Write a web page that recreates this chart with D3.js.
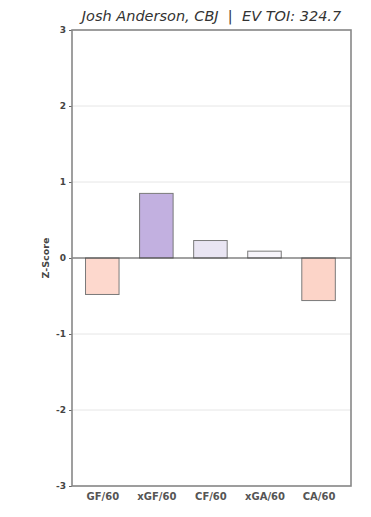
<!DOCTYPE html>
<html>
<head>
<meta charset="utf-8">
<script src="https://cdn.jsdelivr.net/npm/d3@7"></script>
<style>
  body { margin: 0; background: #ffffff; }
  text { font-family: "DejaVu Sans", sans-serif; }
</style>
</head>
<body>
<svg id="chart"></svg>
<script>
// chart values
const categories = ["GF/60", "xGF/60", "CF/60", "xGA/60", "CA/60"];
const zScores = [-0.48, 0.85, 0.23, 0.09, -0.56];
const barColors = ["#fdd8cd", "#c2b0e0", "#e9e5f3", "#f6f4fa", "#fcd4c8"];
const yTicks = [-3, -2, -1, 0, 1, 2, 3];
const title = "Josh Anderson, CBJ  |  EV TOI: 324.7";

const width = 371, height = 517;
const margin = { top: 30, right: 20, bottom: 31, left: 72 };
const innerW = width - margin.left - margin.right;
const innerH = height - margin.top - margin.bottom;

const svg = d3.select("#chart")
    .attr("width", width)
    .attr("height", height);

const g = svg.append("g")
    .attr("transform", `translate(${margin.left},${margin.top})`);

// x is a linear index scale, like matplotlib's bar positions
const xScale = d3.scaleLinear()
    .domain([-0.56, categories.length - 0.4])
    .range([0, innerW]);
const barW = xScale(0.62) - xScale(0);

const yScale = d3.scaleLinear()
    .domain([-3, 3])
    .range([innerH, 0]);

// grid lines
g.selectAll(".grid")
    .data(yTicks.filter(d => d !== 0))
    .enter()
    .append("line")
    .attr("x1", 0)
    .attr("x2", innerW)
    .attr("y1", d => yScale(d))
    .attr("y2", d => yScale(d))
    .attr("stroke", "#e6e6e6")
    .attr("stroke-width", 1);

// bars
g.selectAll("rect.bar")
    .data(zScores)
    .enter()
    .append("rect")
    .attr("class", "bar")
    .attr("x", (d, i) => xScale(i) - barW / 2)
    .attr("y", d => yScale(Math.max(d, 0)))
    .attr("width", barW)
    .attr("height", d => Math.abs(yScale(d) - yScale(0)))
    .attr("fill", (d, i) => barColors[i])
    .attr("stroke", "#7a7a7a")
    .attr("stroke-width", 1);

// zero line
g.append("line")
    .attr("x1", 0)
    .attr("x2", innerW)
    .attr("y1", yScale(0))
    .attr("y2", yScale(0))
    .attr("stroke", "#444")
    .attr("stroke-width", 1.2);

// y axis
const yAxis = g.append("g")
    .call(d3.axisLeft(yScale).tickValues(yTicks).tickSize(3).tickPadding(3).tickFormat(d => String(d)));
yAxis.select(".domain").remove();
yAxis.selectAll("line").attr("stroke", "#666");
yAxis.selectAll("text")
    .attr("fill", "#444")
    .attr("font-size", 9)
    .attr("font-weight", "bold");

// x axis
const xAxis = g.append("g")
    .attr("transform", `translate(0,${innerH})`)
    .call(d3.axisBottom(xScale).tickValues(d3.range(categories.length))
        .tickSize(0).tickPadding(7).tickFormat(i => categories[i]));
xAxis.select(".domain").remove();
xAxis.selectAll("text")
    .attr("fill", "#555")
    .attr("font-size", 10)
    .attr("font-weight", "bold");

// frame
g.append("rect")
    .attr("x", 0)
    .attr("y", 0)
    .attr("width", innerW)
    .attr("height", innerH)
    .attr("fill", "none")
    .attr("stroke", "#888")
    .attr("stroke-width", 1.6);

// y label
svg.append("text")
    .attr("text-anchor", "middle")
    .attr("transform", `translate(49,${margin.top + yScale(0)}) rotate(-90)`)
    .attr("font-size", 9.5)
    .attr("font-weight", "bold")
    .attr("fill", "#444")
    .text("Z-Score");

// title
svg.append("text")
    .attr("x", margin.left + innerW / 2)
    .attr("y", 21)
    .attr("text-anchor", "middle")
    .attr("font-size", 14.5)
    .attr("font-style", "italic")
    .attr("fill", "#333")
    .attr("xml:space", "preserve")
    .style("white-space", "pre")
    .text(title);
</script>
</body>
</html>
